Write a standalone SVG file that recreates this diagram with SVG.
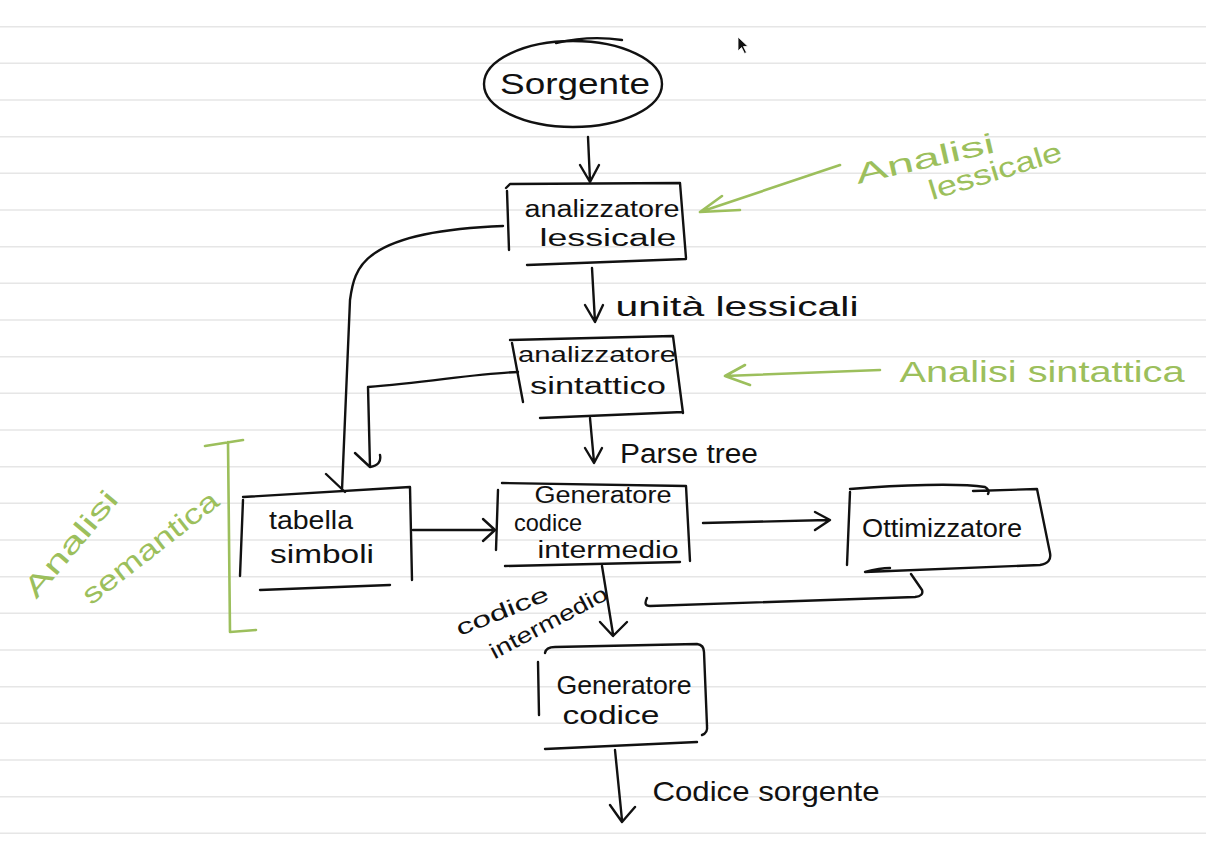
<svg xmlns="http://www.w3.org/2000/svg" width="1206" height="850" viewBox="0 0 1206 850">
  <style>
    .rule { stroke: #e6e6e6; stroke-width: 1.6; }
    .ink { fill: none; stroke: #111; stroke-width: 2.4; stroke-linecap: round; stroke-linejoin: round; }
    .green { fill: none; stroke: #9cbf5c; stroke-width: 2.6; stroke-linecap: round; stroke-linejoin: round; }
    .t { font-family: "Liberation Sans", "DejaVu Sans", sans-serif; fill: #111; text-anchor: middle; }
    .g { font-family: "Liberation Sans", "DejaVu Sans", sans-serif; fill: #9cbf5c; text-anchor: middle; }
  </style>
  <rect width="1206" height="850" fill="#ffffff"/>
  <g id="ruling">
    <line class="rule" x1="0" y1="26.7" x2="1206" y2="26.7"/>
    <line class="rule" x1="0" y1="63.3" x2="1206" y2="63.3"/>
    <line class="rule" x1="0" y1="100" x2="1206" y2="100"/>
    <line class="rule" x1="0" y1="136.7" x2="1206" y2="136.7"/>
    <line class="rule" x1="0" y1="173.3" x2="1206" y2="173.3"/>
    <line class="rule" x1="0" y1="210" x2="1206" y2="210"/>
    <line class="rule" x1="0" y1="246.7" x2="1206" y2="246.7"/>
    <line class="rule" x1="0" y1="283.3" x2="1206" y2="283.3"/>
    <line class="rule" x1="0" y1="320" x2="1206" y2="320"/>
    <line class="rule" x1="0" y1="356.7" x2="1206" y2="356.7"/>
    <line class="rule" x1="0" y1="393.3" x2="1206" y2="393.3"/>
    <line class="rule" x1="0" y1="430" x2="1206" y2="430"/>
    <line class="rule" x1="0" y1="466.7" x2="1206" y2="466.7"/>
    <line class="rule" x1="0" y1="503.3" x2="1206" y2="503.3"/>
    <line class="rule" x1="0" y1="540" x2="1206" y2="540"/>
    <line class="rule" x1="0" y1="576.7" x2="1206" y2="576.7"/>
    <line class="rule" x1="0" y1="613.3" x2="1206" y2="613.3"/>
    <line class="rule" x1="0" y1="650" x2="1206" y2="650"/>
    <line class="rule" x1="0" y1="686.7" x2="1206" y2="686.7"/>
    <line class="rule" x1="0" y1="723.3" x2="1206" y2="723.3"/>
    <line class="rule" x1="0" y1="760" x2="1206" y2="760"/>
    <line class="rule" x1="0" y1="796.7" x2="1206" y2="796.7"/>
    <line class="rule" x1="0" y1="833.3" x2="1206" y2="833.3"/>
  </g>

  <g id="cursor">
    <path d="M738,37 L738,51 L741.5,47.5 L744.5,53.5 L746.5,52.5 L743.5,46.5 L748,46.5 Z" fill="#111" stroke="#fff" stroke-width="0.8"/>
  </g>

  <g id="sorgente">
    <ellipse class="ink" cx="573" cy="84" rx="89" ry="43"/>
    <path class="ink" d="M556,43 Q590,35 622,40"/>
    <text class="t" x="575" y="94" font-size="30" textLength="150" lengthAdjust="spacingAndGlyphs">Sorgente</text>
  </g>

  <g id="analizzatore-lessicale">
    <path class="ink" d="M507,191 L509,250 M506,188 L510,184 L680,183 L686,258 M527,265 L686,259"/>
    <text class="t" x="602" y="217" font-size="23" textLength="155" lengthAdjust="spacingAndGlyphs">analizzatore</text>
    <text class="t" x="608" y="246" font-size="23" textLength="137" lengthAdjust="spacingAndGlyphs">lessicale</text>
  </g>

  <g id="analizzatore-sintattico">
    <path class="ink" d="M512,343 L523,402 M510,340 L673,336 L683,413 M540,418 L683,412"/>
    <text class="t" x="597" y="362" font-size="22" textLength="158" lengthAdjust="spacingAndGlyphs">analizzatore</text>
    <text class="t" x="598" y="394" font-size="23" textLength="136" lengthAdjust="spacingAndGlyphs">sintattico</text>
  </g>

  <g id="tabella-simboli">
    <path class="ink" d="M243,497 L410,487 L412,580 M243,500 L240,576 M260,590 L390,585"/>
    <text class="t" x="311" y="529" font-size="26" textLength="84" lengthAdjust="spacingAndGlyphs">tabella</text>
    <text class="t" x="322" y="563" font-size="26" textLength="104" lengthAdjust="spacingAndGlyphs">simboli</text>
  </g>

  <g id="generatore-codice-intermedio">
    <path class="ink" d="M502,483 L686,486 L690,561 M498,490 L496,550 M505,566 L680,562"/>
    <text class="t" x="603" y="503" font-size="23" textLength="137" lengthAdjust="spacingAndGlyphs">Generatore</text>
    <text class="t" x="548" y="531" font-size="24" textLength="68" lengthAdjust="spacingAndGlyphs">codice</text>
    <text class="t" x="608" y="558" font-size="23" textLength="141" lengthAdjust="spacingAndGlyphs">intermedio</text>
  </g>

  <g id="ottimizzatore">
    <path class="ink" d="M850,492 L847,565 M850,489 C900,485 958,483 985,487 Q990,490 988,494 M973,491 L1037,489 L1050,553 Q1052,563 1040,565 L865,572 Q880,568 890,568"/>
    <text class="t" x="942" y="537" font-size="26" textLength="160" lengthAdjust="spacingAndGlyphs">Ottimizzatore</text>
  </g>

  <g id="generatore-codice">
    <path class="ink" d="M545,653 Q546,647 555,647 L697,644 Q704,645 704,652 L707,726 Q708,733 702,735 M538,662 L539,715 M545,749 L697,742"/>
    <text class="t" x="624" y="694" font-size="26" textLength="135" lengthAdjust="spacingAndGlyphs">Generatore</text>
    <text class="t" x="611" y="724" font-size="26" textLength="97" lengthAdjust="spacingAndGlyphs">codice</text>
  </g>

  <g id="connectors">
    <path class="ink" d="M588,137 L590,181 M580,165 L590,182 L599,165"/>
    <path class="ink" d="M592,268 L595,322 M585,305 L595,322 L603,305"/>
    <path class="ink" d="M590,418 L594,462 M585,448 L594,463 L602,448"/>
    <path class="ink" d="M503,226 C450,228 400,236 375,253 C355,266 352,285 350,300 L342,490 M326,474 L345,492"/>
    <path class="ink" d="M518,372 C480,373 430,382 368,387 L370,467 M355,453 L370,467 Q382,465 380,455"/>
    <path class="ink" d="M413,530 L494,530 M483,519 L495,530 L483,541"/>
    <path class="ink" d="M703,523 L828,520 M815,512 L830,520 L815,530"/>
    <path class="ink" d="M911,574 L922,590 Q924,596 915,597 L650,606 Q643,606 647,598"/>
    <path class="ink" d="M602,566 L613,634 M600,622 L613,636 L627,622"/>
    <path class="ink" d="M615,750 L622,820 M610,805 L622,822 L635,807"/>
  </g>

  <g id="connector-labels">
    <text class="t" x="737" y="316" font-size="27" textLength="243" lengthAdjust="spacingAndGlyphs">unità lessicali</text>
    <text class="t" x="689" y="463" font-size="27" textLength="138" lengthAdjust="spacingAndGlyphs">Parse tree</text>
    <text class="t" x="766" y="801" font-size="28" textLength="227" lengthAdjust="spacingAndGlyphs">Codice sorgente</text>
    <text class="t" font-size="22" textLength="98" lengthAdjust="spacingAndGlyphs" transform="translate(505,618) rotate(-22)">codice</text>
    <text class="t" font-size="22" textLength="130" lengthAdjust="spacingAndGlyphs" transform="translate(552,629) rotate(-28)">intermedio</text>
  </g>

  <g id="annotations">
    <path class="green" d="M840,165 L700,212 M722,196 L700,212 L740,210"/>
    <text class="g" font-size="28" textLength="142" lengthAdjust="spacingAndGlyphs" transform="translate(927,168) rotate(-13)">Analisi</text>
    <text class="g" font-size="28" textLength="138" lengthAdjust="spacingAndGlyphs" transform="translate(998,180) rotate(-17)">lessicale</text>

    <path class="green" d="M880,370 L725,376 M745,365 L725,376 L750,385"/>
    <text class="g" x="1042" y="382" font-size="30" textLength="285" lengthAdjust="spacingAndGlyphs">Analisi sintattica</text>

    <path class="green" d="M205,446 L243,440 M228,442 L230,632 L256,630"/>
    <text class="g" font-size="28" textLength="130" lengthAdjust="spacingAndGlyphs" transform="translate(78,550) rotate(-50)">Analisi</text>
    <text class="g" font-size="28" textLength="165" lengthAdjust="spacingAndGlyphs" transform="translate(156,555) rotate(-38)">semantica</text>
  </g>
</svg>
